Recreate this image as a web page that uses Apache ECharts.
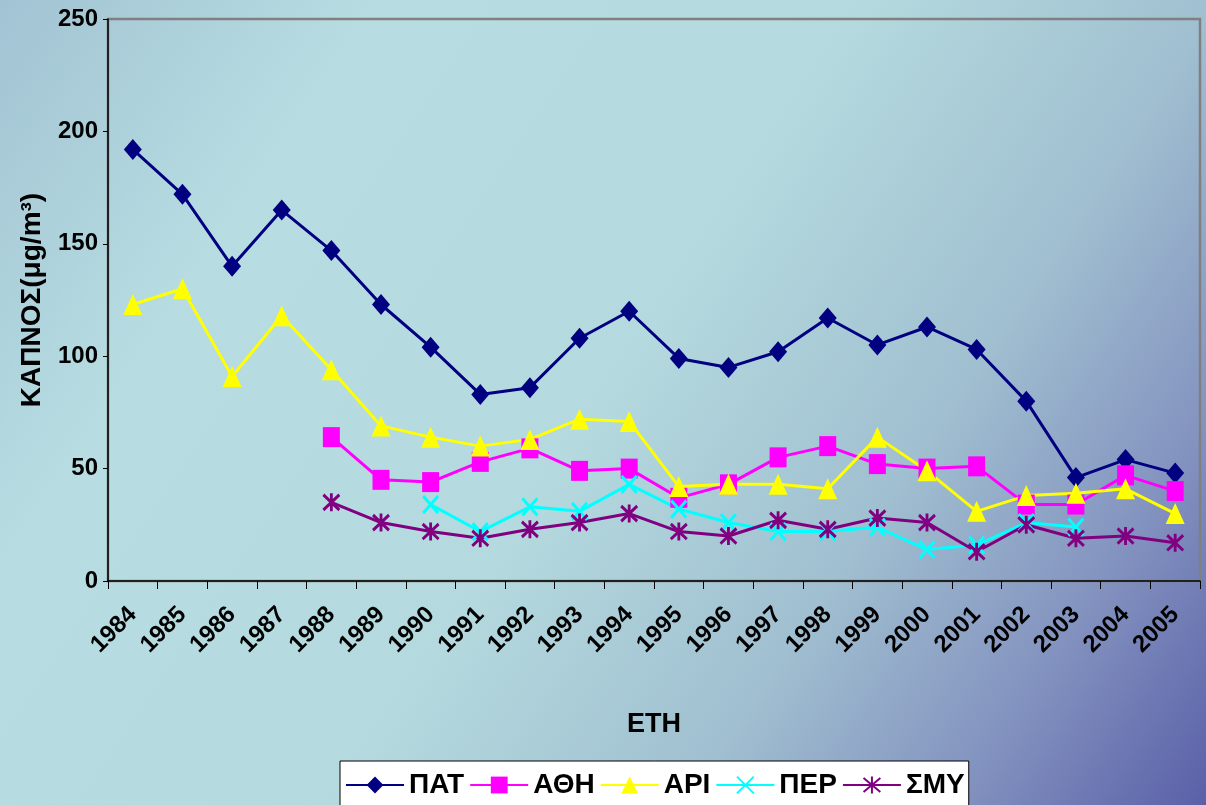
<!DOCTYPE html>
<html>
<head>
<meta charset="utf-8">
<script src="https://cdn.jsdelivr.net/npm/echarts@6/dist/echarts.min.js"></script>
<style>
html,body{margin:0;padding:0;}
#chart{width:1206px;height:805px;}
</style>
</head>
<body>
<div id="chart"></div>
<script>
const years = ['1984','1985','1986','1987','1988','1989','1990','1991','1992','1993','1994','1995','1996','1997','1998','1999','2000','2001','2002','2003','2004','2005'];
const PAT = [192,172,140,165,147,123,104,83,86,108,120,99,95,102,117,105,113,103,80,46,54,48];
const ATH = [null,null,null,null,64,45,44,53,59,49,50,37,43,55,60,52,50,51,34,34,47,40];
const ARI = [123,130,91,118,94,69,64,60,63,72,71,42,43,43,41,64,49,31,38,39,41,30];
const PER = [null,null,null,null,null,null,34,22,33,31,43,32,26,22,22,24,14,16,26,24,null,null];
const SMY = [null,null,null,null,35,26,22,19,23,26,30,22,20,27,23,28,26,13,25,19,20,17];
const yTicks = [0,50,100,150,200,250];

const chart = echarts.init(document.getElementById('chart'));
const FONT = '"Liberation Sans", Arial, sans-serif';
function mk(name, data, color, symbol, size, extra) {
  return Object.assign({
    name: name, type: 'line', data: data, connectNulls: false,
    symbol: symbol, symbolSize: size,
    lineStyle: {color: color, width: 3},
    itemStyle: {color: color},
    emphasis: {disabled: true}
  }, extra || {});
}
chart.setOption({
  animation: false,
  backgroundColor: {
    type: 'linear', x: 0, y: 0, x2: 1, y2: 1,
    colorStops: [
      {offset: 0, color: '#a2c3d3'},
      {offset: 0.22, color: '#b7dde2'},
      {offset: 0.5, color: '#b4d9de'},
      {offset: 0.7, color: '#a0bfd0'},
      {offset: 0.85, color: '#8494c0'},
      {offset: 1, color: '#5a60a8'}
    ]
  },
  textStyle: {fontFamily: FONT},
  grid: {left: 108, right: 6, top: 19, bottom: 224, show: true, borderColor: '#808080', borderWidth: 2.5, backgroundColor: 'transparent'},
  legend: {
    top: 761, left: 340,
    backgroundColor: '#ffffff', borderColor: '#000000', borderWidth: 1,
    padding: [10, 4, 20, 5],
    itemGap: 5, itemWidth: 58, itemHeight: 21,
    textStyle: {fontSize: 28, fontWeight: 'bold', color: '#000', fontFamily: FONT},
    data: ['ΠΑΤ','ΑΘΗ','ΑΡΙ','ΠΕΡ','ΣΜΥ']
  },
  xAxis: {
    type: 'category', data: years, boundaryGap: true,
    name: 'ΕΤΗ', nameLocation: 'middle', nameGap: 130,
    nameTextStyle: {fontSize: 27, fontWeight: 'bold', color: '#000', fontFamily: FONT},
    axisLine: {lineStyle: {color: '#000', width: 1.5}},
    axisTick: {show: true, alignWithLabel: false, length: 8, lineStyle: {color: '#000'}},
    axisLabel: {rotate: 45, fontSize: 24, fontWeight: 'bold', color: '#000', margin: 30, interval: 0, fontFamily: FONT},
    splitLine: {show: false}
  },
  yAxis: {
    type: 'value', min: 0, max: 250, interval: 50,
    name: 'ΚΑΠΝΟΣ(μg/m³)', nameLocation: 'middle', nameGap: 62, nameRotate: 90,
    nameTextStyle: {fontSize: 28, fontWeight: 'bold', color: '#000', fontFamily: FONT},
    axisLine: {show: true, lineStyle: {color: '#000', width: 1.5}},
    axisTick: {show: true, length: 5, lineStyle: {color: '#000'}},
    axisLabel: {fontSize: 24, fontWeight: 'bold', color: '#000', margin: 10, fontFamily: FONT,
      formatter: function (v) { return yTicks.indexOf(v) >= 0 ? String(v) : ''; }},
    splitLine: {show: false}
  },
  series: [
    mk('ΠΑΤ', PAT, '#000080', 'diamond', [18, 21]),
    mk('ΑΘΗ', ATH, '#ff00ff', 'rect', [17, 20]),
    mk('ΑΡΙ', ARI, '#ffff00', 'triangle', [19, 21]),
    mk('ΠΕΡ', PER, '#00ffff', 'path://M0,0L10,11M10,0L0,11', [15, 17], {itemStyle: {color: 'none', borderColor: '#00ffff', borderWidth: 3}}),
    mk('ΣΜΥ', SMY, '#800080', 'path://M0,0L10,11M10,0L0,11M5,-1L5,12', [16, 18], {itemStyle: {color: 'none', borderColor: '#800080', borderWidth: 3}})
  ]
});
</script>
</body>
</html>
